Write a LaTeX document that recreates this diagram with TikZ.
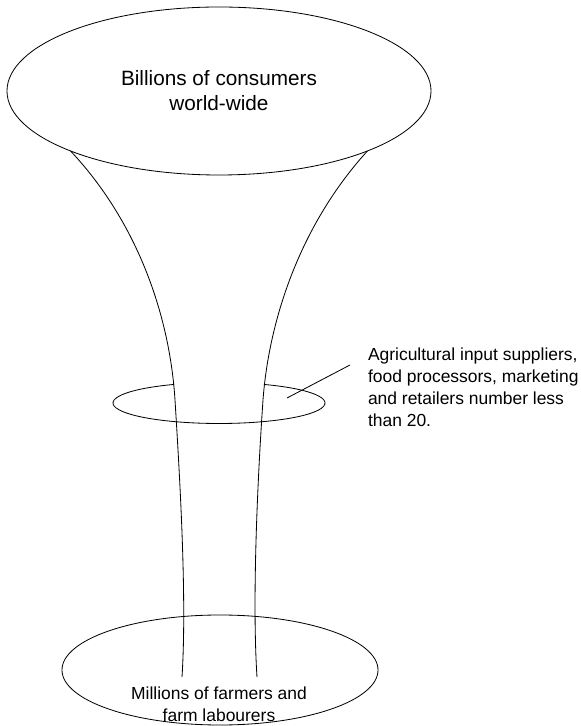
\documentclass[tikz,border=0pt]{standalone}
\usepackage{fontspec}
\setmainfont{Liberation Sans}
\usetikzlibrary{shapes.geometric}

\begin{document}
\begin{tikzpicture}[x=0.03cm, y=0.03cm, line width=0.7pt,
  every node/.style={inner sep=0pt, outer sep=0pt},
  crowd/.style={draw, ellipse, align=center},
  big/.style={font=\fontsize{17.7}{21.3}\selectfont},
  small/.style={font=\fontsize{14.9}{18.7}\selectfont}]
  \useasboundingbox (0,0) rectangle (580,726);
  \node[crowd, big, minimum width=12.72cm, minimum height=5.04cm] (consumers) at (219,635)
    {Billions of consumers\\ world-wide};
  \node[crowd, minimum width=9.48cm, minimum height=3.3cm] (farmers) at (220,56) {};
  \node[small, align=center] (farmerstext) at (219,22) {Millions of farmers and\\ farm labourers};
  \coordinate (ring) at (219,323);
  \coordinate (lfoot) at (182,49);
  \coordinate (rfoot) at (257,49);
  % funnel
  \draw (consumers.202) .. controls (140,501) and (170,406) .. (175,326)
    .. controls (180,246) and (187,126) .. (lfoot);
  \draw (consumers.338) .. controls (300,501) and (269,406) .. (263,326)
    .. controls (257.5,246) and (252,126) .. (rfoot);
  % middle ring, back part hidden behind the funnel
  \draw ([shift={(115.1:3.18cm and 0.615cm)}]ring)
    arc[start angle=115.1, end angle=424.9, x radius=3.18cm, y radius=0.615cm];
  \node[small, anchor=west, align=left] (note) at (368,339)
    {Agricultural input suppliers,\\ food processors, marketing\\ and retailers number less\\ than 20.};
  \coordinate (tip) at (287,328);
  \draw (tip) -- ([shift={(-0.54cm,0.66cm)}]note.west);
\end{tikzpicture}
\end{document}
